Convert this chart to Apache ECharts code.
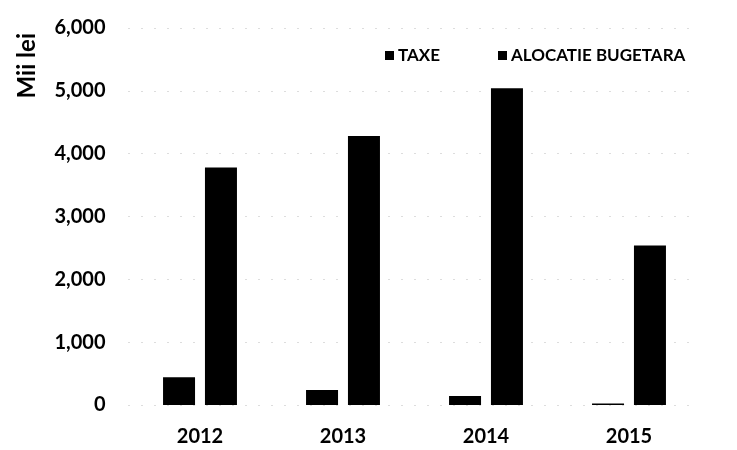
<!DOCTYPE html>
<html><head><meta charset="utf-8">
<script src="https://cdn.jsdelivr.net/npm/echarts@6/dist/echarts.min.js"></script>
<style>html,body{margin:0;padding:0;background:#fff}#c{width:737px;height:450px}</style>
</head><body><div id="c"></div>
<script>
const categories = ['2012', '2013', '2014', '2015'];
const taxe = [440, 240, 145, 25];
const alocatie = [3780, 4280, 5040, 2540];
const seriesNames = ['TAXE', 'ALOCATIE BUGETARA'];
const yTicks = [0, 1000, 2000, 3000, 4000, 5000, 6000];

const chart = echarts.init(document.getElementById('c'), null, {renderer: 'canvas'});
const font = 'Lato';
chart.setOption({
  animation: false,
  backgroundColor: '#fff',
  grid: {left: 128.5, right: 36.5, top: 28, bottom: 45, containLabel: false},
  legend: {
    data: seriesNames,
    left: 380, top: 42,
    itemWidth: 9, itemHeight: 9, itemGap: 58,
    icon: 'rect',
    textStyle: {fontFamily: font, fontWeight: 'bold', fontSize: 17, color: '#000', padding: [0,0,0,-1]}
  },
  graphic: [{
    type: 'text', left: 15, top: 33, rotation: Math.PI / 2,
    style: {text: 'Mii lei', font: 'bold 24px Lato', fill: '#000'}
  }],
  xAxis: {
    type: 'category', data: categories,
    axisLine: {show: false}, axisTick: {show: false},
    axisLabel: {fontFamily: font, fontWeight: 'bold', fontSize: 20, color: '#000', margin: 22}
  },
  yAxis: {
    type: 'value', min: yTicks[0], max: yTicks[yTicks.length - 1], interval: 1000,
    axisLine: {show: false}, axisTick: {show: false},
    axisLabel: {
      fontFamily: font, fontWeight: 'bold', fontSize: 20, color: '#000', margin: 23,
      formatter: v => v.toLocaleString('en-US')
    },
    splitLine: {lineStyle: {color: '#bbb', width: 1, type: [1, 12]}}
  },
  series: [
    {name: seriesNames[0], type: 'bar', data: taxe, barWidth: 32, barGap: '31%',
     itemStyle: {color: '#000'}},
    {name: seriesNames[1], type: 'bar', data: alocatie, barWidth: 32,
     itemStyle: {color: '#000'}}
  ]
});
</script></body></html>
